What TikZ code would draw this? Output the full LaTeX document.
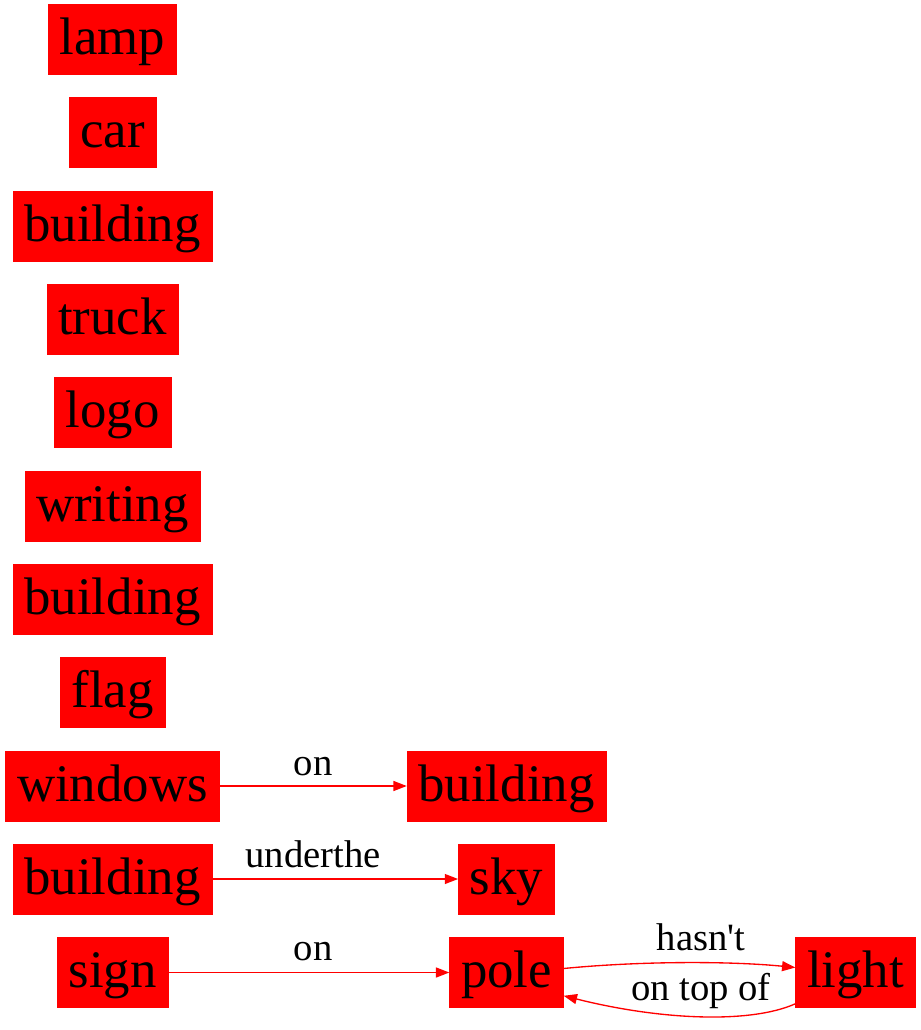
\documentclass[tikz,border=0pt]{standalone}
\usepackage{fontspec}
\setmainfont{Liberation Serif}
\usetikzlibrary{arrows.meta,calc}
\begin{document}
\begin{tikzpicture}[x=0.75pt,y=-0.75pt,
 obj/.style={fill=red,draw=red,inner xsep=8.6pt,inner ysep=0pt,minimum height=52.5pt,
   font=\fontsize{39.6}{47}\selectfont,text height=30pt,text depth=6.8pt},
 rel/.style={draw=red,line width=1pt,-{Triangle[length=10pt,width=7.5pt]}},
 lab/.style={font=\fontsize{29}{35}\selectfont,anchor=base,inner sep=0pt}]
\useasboundingbox (0,0) rectangle (920,1030);
\node[obj] (lamp) at (112.5,39.5) {lamp};
\node[obj] (car) at (112.5,132.5) {car};
\node[obj] (building1) at (112.5,226) {building};
\node[obj] (truck) at (112.5,319.5) {truck};
\node[obj] (logo) at (112.5,412.5) {logo};
\node[obj] (writing) at (112.5,506) {writing};
\node[obj] (building2) at (112.5,599) {building};
\node[obj] (flag) at (112.5,692) {flag};
\node[obj] (windows) at (112.5,786) {windows};
\node[obj] (building3) at (506.5,786) {building};
\node[obj] (building4) at (112.5,879) {building};
\node[obj] (sky) at (506.5,879) {sky};
\node[obj] (sign) at (112.5,972.5) {sign};
\node[obj] (pole) at (506.5,972.5) {pole};
\node[obj] (light) at (855.5,972.5) {light};
\draw[rel] (windows) -- (building3);
\node[lab] (l1) at (313,775) {on};
\draw[rel] (building4) -- (sky);
\node[lab] (l2) at (313,867) {underthe};
\draw[rel] (sign) -- (pole);
\node[lab] (l3) at (313,960) {on};
\draw[rel] ($(pole.east)+(0,-4)$) .. controls (640,961) and (730,961) .. ($(light.west)+(0,-5)$);
\node[lab] (l4) at (701,950) {hasn\textquotesingle t};
\draw[rel] ($(light.south west)+(0,-4)$) .. controls (750,1024) and (660,1020) .. ($(pole.south east)+(0,-12)$);
\node[lab] (l5) at (701,1000) {on top of};
\end{tikzpicture}
\end{document}
